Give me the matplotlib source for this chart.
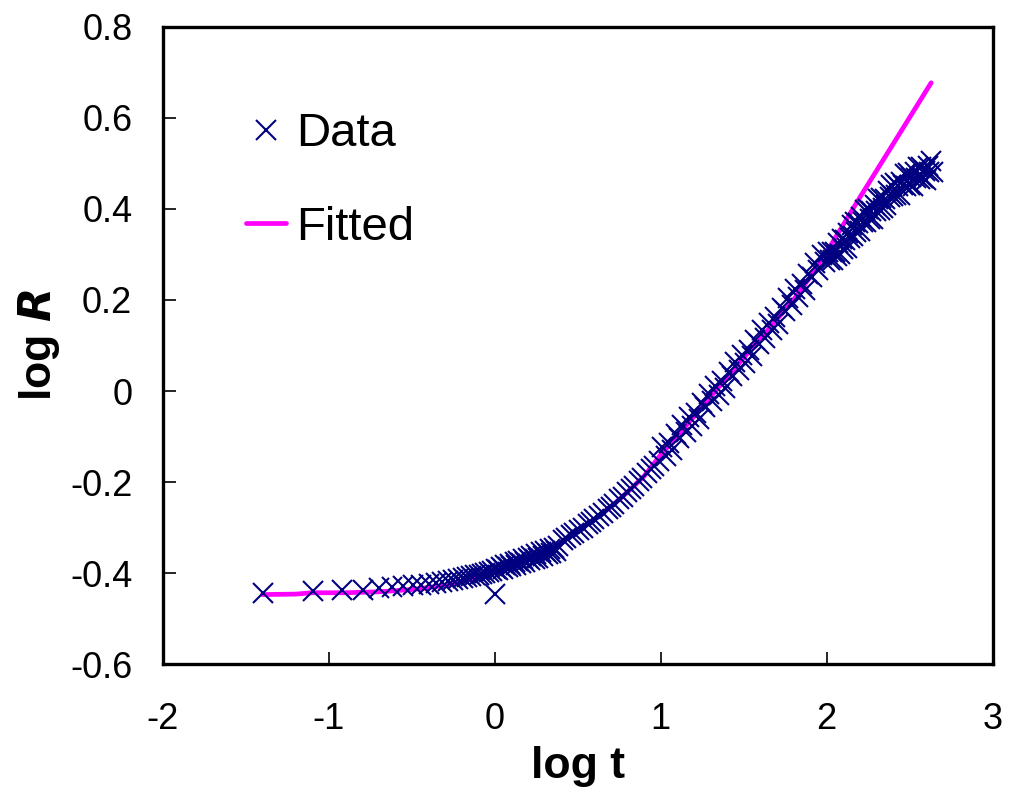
import numpy as np
import matplotlib
matplotlib.use("Agg")
import matplotlib.pyplot as plt

plt.rcParams['font.family'] = ['Liberation Sans', 'DejaVu Sans']
plt.rcParams['axes.unicode_minus'] = False

# measured points (log t, log R)
data_x = [-1.398, -1.097, -0.921, -0.796, -0.699, -0.620, -0.553, -0.495, -0.444, -0.398,
          -0.357, -0.319, -0.284, -0.252, -0.222, -0.194, -0.167, -0.143, -0.119, -0.097,
          -0.076, -0.056, -0.036, -0.018, 0.000,
          0.01, 0.02, 0.04, 0.05, 0.06, 0.08, 0.09, 0.10, 0.12, 0.13, 0.14, 0.16, 0.17, 0.18,
          0.20, 0.21, 0.22, 0.24, 0.25, 0.26, 0.28, 0.29, 0.30, 0.32, 0.33, 0.34, 0.36, 0.37, 0.38,
          0.41, 0.43, 0.46, 0.48, 0.51, 0.53, 0.56, 0.58, 0.60, 0.63, 0.65, 0.68, 0.70, 0.72,
          0.75, 0.77, 0.80, 0.82, 0.84, 0.87, 0.89, 0.92, 0.94, 0.96, 0.99,
          1.01, 1.03, 1.05, 1.07, 1.09, 1.11, 1.13, 1.15, 1.17, 1.19, 1.21, 1.23, 1.25, 1.27,
          1.29, 1.31, 1.33, 1.35, 1.37, 1.39, 1.41, 1.43, 1.45, 1.47, 1.49, 1.51, 1.53, 1.55,
          1.57, 1.59, 1.61, 1.63, 1.65, 1.67, 1.69, 1.71, 1.73, 1.75, 1.77, 1.79, 1.81, 1.83,
          1.85, 1.87, 1.89, 1.91, 1.93, 1.95, 1.97, 1.99,
          2.01, 2.02, 2.03, 2.04, 2.05, 2.06, 2.07, 2.08, 2.09, 2.10, 2.11, 2.12, 2.13, 2.14,
          2.15, 2.16, 2.17, 2.18, 2.19, 2.20, 2.21, 2.22, 2.23, 2.24, 2.25, 2.26, 2.27, 2.28,
          2.29, 2.30, 2.31, 2.32, 2.33, 2.34, 2.35, 2.36, 2.37, 2.38, 2.39, 2.40, 2.41, 2.42,
          2.43, 2.44, 2.45, 2.46, 2.47, 2.48, 2.49, 2.50, 2.51, 2.52, 2.53, 2.54, 2.55, 2.56,
          2.57, 2.58, 2.59, 2.60, 2.61, 2.62, 2.63, 2.64]
data_y = [-0.443, -0.440, -0.437, -0.436, -0.433, -0.431, -0.429, -0.427, -0.425, -0.423,
          -0.421, -0.419, -0.417, -0.415, -0.413, -0.411, -0.409, -0.407, -0.405, -0.403,
          -0.401, -0.399, -0.397, -0.395, -0.445,
          -0.390, -0.394, -0.386, -0.391, -0.383, -0.387, -0.379, -0.385, -0.376, -0.382, -0.373,
          -0.378, -0.369, -0.375, -0.366, -0.372, -0.362, -0.368, -0.358, -0.366, -0.354, -0.362,
          -0.351, -0.359, -0.347, -0.356, -0.344, -0.352, -0.341,
          -0.327, -0.323, -0.316, -0.311, -0.305, -0.300, -0.292, -0.287, -0.282, -0.274, -0.268,
          -0.260, -0.254, -0.248, -0.238, -0.232, -0.222, -0.215, -0.208, -0.198, -0.191, -0.180,
          -0.172, -0.165, -0.154,
          -0.124, -0.142, -0.114, -0.129, -0.095, -0.104, -0.074, -0.091, -0.058, -0.076, -0.048,
          -0.062, -0.027, -0.036, -0.006, -0.023, 0.010, -0.008, 0.021, 0.007, 0.041, 0.033,
          0.063, 0.047, 0.080, 0.062, 0.091, 0.077, 0.112, 0.104, 0.133, 0.117, 0.150, 0.133,
          0.162, 0.148, 0.183, 0.175, 0.205, 0.189, 0.223, 0.206, 0.236, 0.222, 0.257, 0.250,
          0.281, 0.266, 0.299, 0.283,
          0.306, 0.287, 0.305, 0.288, 0.306, 0.297, 0.325, 0.302, 0.333, 0.311, 0.332, 0.314,
          0.347, 0.337, 0.364, 0.341, 0.371, 0.349, 0.369, 0.352, 0.383, 0.371, 0.397, 0.372,
          0.400, 0.377, 0.396, 0.377, 0.408, 0.396, 0.421, 0.397, 0.425, 0.401, 0.421, 0.408,
          0.439, 0.427, 0.453, 0.428, 0.456, 0.431, 0.450, 0.430, 0.460, 0.452, 0.477, 0.451,
          0.478, 0.453, 0.471, 0.450, 0.480, 0.467, 0.492, 0.465, 0.492, 0.467, 0.484, 0.464,
          0.494, 0.481, 0.506, 0.480]

# fitted curve
fit_x = [-1.40, -1.20, -1.10, -0.90, -0.70, -0.50, -0.30, -0.10, 0.00, 0.10, 0.20, 0.30,
         0.40, 0.50, 0.60, 0.70, 0.80, 0.90, 1.00, 1.10, 1.20, 1.30, 1.40, 1.50, 1.60, 1.70,
         1.80, 1.90, 2.00, 2.20, 2.40, 2.63]
fit_y = [-0.447, -0.446, -0.443, -0.443, -0.441, -0.436, -0.427, -0.408, -0.398, -0.385,
         -0.371, -0.355, -0.333, -0.307, -0.282, -0.254, -0.222, -0.187, -0.140, -0.099,
         -0.056, -0.013, 0.030, 0.073, 0.115, 0.157, 0.200, 0.250, 0.305, 0.425, 0.542, 0.677]

fig = plt.figure(figsize=(10.18, 7.87), dpi=100)
ax = fig.add_axes([0.160, 0.156, 0.815, 0.810])

ax.plot(fit_x, fit_y, color='#FF00FF', lw=3.4, solid_capstyle='round', label='Fitted', zorder=2)
ax.plot(data_x, data_y, ls='none', marker='x', ms=14, mew=1.5, color='#000080', label='Data', zorder=3)

ax.set_xlim(-2, 3)
ax.set_ylim(-0.6, 0.8)
ax.set_xticks([-2, -1, 0, 1, 2, 3])
ax.set_yticks(np.round(np.arange(-0.6, 0.81, 0.2), 1))
ax.set_yticklabels(['-0.6', '-0.4', '-0.2', '0', '0.2', '0.4', '0.6', '0.8'])

ax.tick_params(axis='both', direction='in', length=9, width=1.2, labelsize=26)
ax.tick_params(axis='x', pad=27)
ax.tick_params(axis='y', pad=22)
for s in ax.spines.values():
    s.set_linewidth(2.4)

ax.set_xlabel('log t', fontsize=32, fontweight='bold', labelpad=7)
ax.set_ylabel(r'log $\bfit{R}$', fontsize=32, fontweight='bold', labelpad=6)

h, l = ax.get_legend_handles_labels()
ax.legend(h[::-1], l[::-1], loc='upper left', bbox_to_anchor=(0.1, 0.866), frameon=False,
          fontsize=34, handlelength=0.85, handletextpad=0.22, labelspacing=1.05,
          borderaxespad=0, borderpad=0)

fig.savefig('out.png', dpi=100)
